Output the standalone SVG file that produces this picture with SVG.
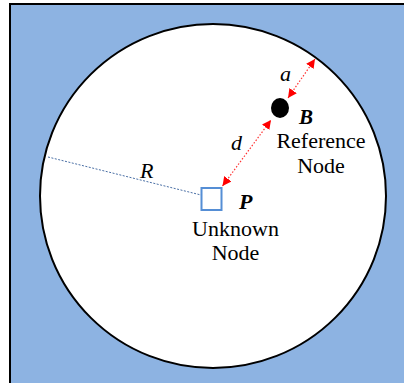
<svg xmlns="http://www.w3.org/2000/svg" width="404" height="383" viewBox="0 0 404 383">
<defs>
<style>
.t{font-family:"Liberation Serif","Times New Roman",serif;font-size:22px;fill:#000}
.i{font-style:italic}
.b{font-weight:bold}
.red{stroke:#ff3333;stroke-width:1.2;stroke-dasharray:1.5 1.8;fill:none}
</style>
<marker id="ah" viewBox="0 0 10 10" refX="10" refY="5" markerWidth="9" markerHeight="9" markerUnits="userSpaceOnUse" orient="auto-start-reverse">
<path d="M0,0 L10,5 L0,10 Z" fill="#ff0000"/>
</marker>
</defs>
<rect width="404" height="383" fill="#ffffff"/>
<g id="field">
<rect x="10" y="4" width="404" height="395" fill="#8db3e2" stroke="#000" stroke-width="2"/>
<ellipse cx="213" cy="196" rx="173" ry="172" fill="#ffffff" stroke="#000" stroke-width="2"/>
</g>
<g id="connectors">
<line x1="48" y1="157" x2="201" y2="195" stroke="#4a6fa5" stroke-width="1" stroke-dasharray="2 1.5"/>
<line class="red" x1="288" y1="98" x2="315" y2="59" marker-start="url(#ah)" marker-end="url(#ah)"/>
<line class="red" x1="222.5" y1="186" x2="271" y2="120" marker-start="url(#ah)" marker-end="url(#ah)"/>
</g>
<g id="node-B">
<ellipse cx="280" cy="108" rx="9" ry="10" fill="#000"/>
<text class="t i b" x="299" y="124" style="font-size:21px">B</text>
<text class="t" x="321" y="148" text-anchor="middle">Reference</text>
<text class="t" x="321" y="173" text-anchor="middle">Node</text>
</g>
<g id="node-P">
<rect x="201.5" y="188" width="20" height="22" fill="#ffffff" stroke="#558ed5" stroke-width="2"/>
<text class="t i b" x="239" y="209">P</text>
<text class="t" x="235.5" y="236" text-anchor="middle">Unknown</text>
<text class="t" x="235.5" y="260" text-anchor="middle">Node</text>
</g>
<g id="labels">
<text class="t i" x="280" y="81">a</text>
<text class="t i" x="231" y="150">d</text>
<text class="t i" x="140" y="178">R</text>
</g>
</svg>
